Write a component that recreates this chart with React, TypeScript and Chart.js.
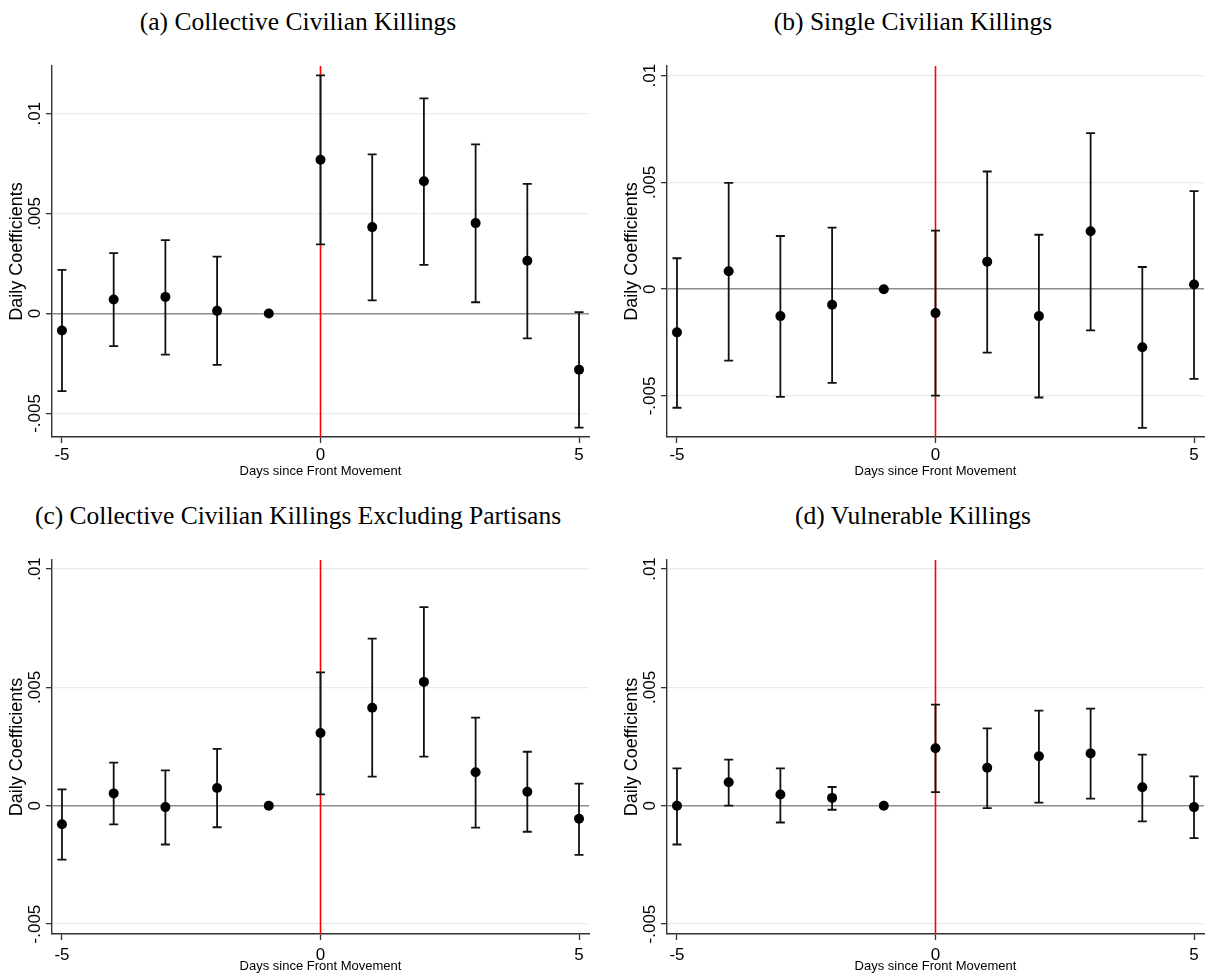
import React, { useEffect, useRef } from "react";
import { Chart, registerables } from "chart.js";

Chart.register(...registerables);

const days = [-5, -4, -3, -2, -1, 0, 1, 2, 3, 4, 5];
const xTicks = [-5, 0, 5];
const yTicks = [-0.005, 0, 0.005, 0.01];

const titleA = "(a) Collective Civilian Killings";
const titleB = "(b) Single Civilian Killings";
const titleC = "(c) Collective Civilian Killings Excluding Partisans";
const titleD = "(d) Vulnerable Killings";

const xAxisTitle = "Days since Front Movement";
const yAxisTitle = "Daily Coefficients";

const coefA = [-0.00085, 0.0007, 0.00083, 0.00013, 0, 0.00769, 0.00432, 0.00661, 0.00452, 0.00264, -0.00281];
const loA = [-0.00389, -0.00163, -0.00206, -0.00257, null, 0.00346, 0.00065, 0.00243, 0.00056, -0.00125, -0.00571];
const hiA = [0.00218, 0.00302, 0.00367, 0.00284, null, 0.01191, 0.00796, 0.01076, 0.00846, 0.00648, 0.00007];
const rangeA = [-0.00618, 0.01238];

const coefB = [-0.00202, 0.00084, -0.00126, -0.00073, 0, -0.00112, 0.00129, -0.00126, 0.00271, -0.00272, 0.00022];
const loB = [-0.00555, -0.00334, -0.00504, -0.00439, null, -0.00498, -0.00297, -0.00507, -0.00193, -0.00649, -0.0042];
const hiB = [0.00145, 0.00498, 0.00249, 0.00288, null, 0.00274, 0.00551, 0.00255, 0.00731, 0.00104, 0.00459];
const rangeB = [-0.00692, 0.01045];

const coefC = [-0.00078, 0.00052, -0.00006, 0.00075, 0, 0.00307, 0.00414, 0.00523, 0.00141, 0.00059, -0.00055];
const loC = [-0.00228, -0.00079, -0.00164, -0.00091, null, 0.00048, 0.00123, 0.00207, -0.00093, -0.0011, -0.00208];
const hiC = [0.00069, 0.00182, 0.00149, 0.0024, null, 0.00563, 0.00706, 0.00839, 0.00372, 0.00228, 0.00093];
const rangeC = [-0.00542, 0.01038];

const coefD = [0.0, 0.00099, 0.00047, 0.00033, 0, 0.00243, 0.0016, 0.00209, 0.00221, 0.00078, -0.00006];
const loD = [-0.00164, 0.0, -0.00071, -0.00017, null, 0.00057, -0.0001, 0.00013, 0.0003, -0.00066, -0.00137];
const hiD = [0.00158, 0.00195, 0.00158, 0.00079, null, 0.00427, 0.00327, 0.00402, 0.0041, 0.00216, 0.00124];
const rangeD = [-0.00542, 0.01038];

const fmtY = (v: number) => (v === 0 ? "0" : String(v).replace("0.", "."));

type PanelProps = {
  title: string;
  coef: number[];
  lo: (number | null)[];
  hi: (number | null)[];
  range: number[];
  left: number;
  top: number;
  height: number;
  xh: number;
  xTitlePad: number;
  xTickPad: number;
};

const CW = 599;

function Panel(p: PanelProps) {
  const ref = useRef<HTMLCanvasElement | null>(null);
  useEffect(() => {
    if (!ref.current) return;
    const errPlugin = {
      id: "errbars",
      beforeDatasetsDraw(chart: any) {
        const { ctx, chartArea, scales } = chart;
        const x = scales.x;
        const y = scales.y;
        ctx.save();
        const x0 = x.getPixelForValue(0);
        ctx.strokeStyle = "#ff0000";
        ctx.lineWidth = 1.6;
        ctx.beginPath();
        ctx.moveTo(x0, chartArea.top);
        ctx.lineTo(x0, chartArea.bottom);
        ctx.stroke();
        ctx.strokeStyle = "#111111";
        ctx.lineWidth = 1.8;
        days.forEach((d, i) => {
          const l = p.lo[i];
          const h = p.hi[i];
          if (l === null || h === null) return;
          const px = x.getPixelForValue(d);
          const pl = y.getPixelForValue(l);
          const ph = y.getPixelForValue(h);
          ctx.beginPath();
          ctx.moveTo(px, pl);
          ctx.lineTo(px, ph);
          ctx.moveTo(px - 4.5, pl);
          ctx.lineTo(px + 4.5, pl);
          ctx.moveTo(px - 4.5, ph);
          ctx.lineTo(px + 4.5, ph);
          ctx.stroke();
        });
        ctx.restore();
      },
      afterDraw(chart: any) {
        const { ctx, scales } = chart;
        const y = scales.y;
        ctx.save();
        ctx.fillStyle = "#000";
        ctx.font = '17px "Liberation Sans", Arial, sans-serif';
        ctx.textAlign = "center";
        ctx.textBaseline = "middle";
        yTicks.forEach((v) => {
          const py = y.getPixelForValue(v);
          ctx.save();
          ctx.translate(35, py);
          ctx.rotate(-Math.PI / 2);
          ctx.fillText(fmtY(v), 0, 0);
          ctx.restore();
        });
        ctx.restore();
      },
    };
    const chart = new Chart(ref.current, {
      type: "scatter",
      data: {
        datasets: [
          {
            data: days.map((d, i) => ({ x: d, y: p.coef[i] })),
            pointRadius: 5,
            pointHoverRadius: 5,
            pointBackgroundColor: "#000",
            pointBorderColor: "#000",
            pointBorderWidth: 0,
            showLine: false,
          },
        ],
      },
      options: {
        animation: false,
        responsive: false,
        maintainAspectRatio: false,
        devicePixelRatio: 1,
        layout: { padding: { left: 0, right: 10, top: 66, bottom: 0 } },
        plugins: { legend: { display: false }, tooltip: { enabled: false }, title: { display: false } },
        scales: {
          x: {
            type: "linear",
            min: -5.193,
            max: 5.193,
            afterBuildTicks: (s: any) => {
              s.ticks = xTicks.map((v) => ({ value: v }));
            },
            afterFit: (s: any) => {
              s.height = p.xh;
            },
            ticks: {
              color: "#000",
              font: { family: '"Liberation Sans", Arial, sans-serif', size: 17 },
              padding: p.xTickPad,
              maxRotation: 0,
              autoSkip: false,
              callback: (v: any) => String(v),
            },
            grid: {
              drawOnChartArea: false,
              drawTicks: true,
              tickLength: 6,
              tickColor: "#333",
              tickWidth: 1.3,
            },
            border: { display: true, color: "#333", width: 1.4 },
            title: {
              display: true,
              text: xAxisTitle,
              color: "#000",
              font: { family: '"Liberation Sans", Arial, sans-serif', size: 13 },
              padding: { top: 0, bottom: p.xTitlePad },
            },
          },
          y: {
            type: "linear",
            min: p.range[0],
            max: p.range[1],
            afterBuildTicks: (s: any) => {
              s.ticks = yTicks.map((v) => ({ value: v }));
            },
            afterFit: (s: any) => {
              s.width = 52;
            },
            ticks: { display: false },
            grid: {
              drawOnChartArea: true,
              drawTicks: true,
              tickLength: 6,
              tickColor: "#333",
              tickWidth: 1.3,
              color: (c: any) => (c.tick && c.tick.value === 0 ? "#8c8c8c" : "#e4eef0"),
              lineWidth: (c: any) => (c.tick && c.tick.value === 0 ? 1.4 : 1.3),
            },
            border: { display: true, color: "#333", width: 1.4 },
            title: {
              display: true,
              text: yAxisTitle,
              color: "#000",
              font: { family: '"Liberation Sans", Arial, sans-serif', size: 18 },
              padding: { top: 6, bottom: 0 },
            },
          },
        },
      },
      plugins: [errPlugin],
    } as any);
    return () => chart.destroy();
  }, []);
  return (
    <>
      <div
        style={{
          position: "absolute",
          left: p.left + 298 - 300,
          top: p.top + 7,
          width: 600,
          textAlign: "center",
          fontFamily: '"Liberation Serif", "Times New Roman", serif',
          fontSize: 25.5,
          lineHeight: "30px",
          color: "#000",
          whiteSpace: "nowrap",
        }}
      >
        {p.title}
      </div>
      <canvas
        ref={ref}
        width={CW}
        height={p.height}
        style={{ position: "absolute", left: p.left, top: p.top, width: CW, height: p.height }}
      />
    </>
  );
}

export default function App() {
  return (
    <div
      style={{
        position: "fixed",
        left: 0,
        top: 0,
        width: 1214,
        height: 978,
        overflow: "hidden",
        background: "#fff",
      }}
    >
      <Panel title={titleA} coef={coefA} lo={loA} hi={hiA} range={rangeA} left={0} top={0} height={489} xh={52} xTitlePad={10} xTickPad={2} />
      <Panel title={titleB} coef={coefB} lo={loB} hi={hiB} range={rangeB} left={615} top={0} height={489} xh={52} xTitlePad={10} xTickPad={2} />
      <Panel title={titleC} coef={coefC} lo={loC} hi={hiC} range={rangeC} left={0} top={494} height={484} xh={44} xTitlePad={4} xTickPad={5} />
      <Panel title={titleD} coef={coefD} lo={loD} hi={hiD} range={rangeD} left={615} top={494} height={484} xh={44} xTitlePad={4} xTickPad={5} />
    </div>
  );
}
